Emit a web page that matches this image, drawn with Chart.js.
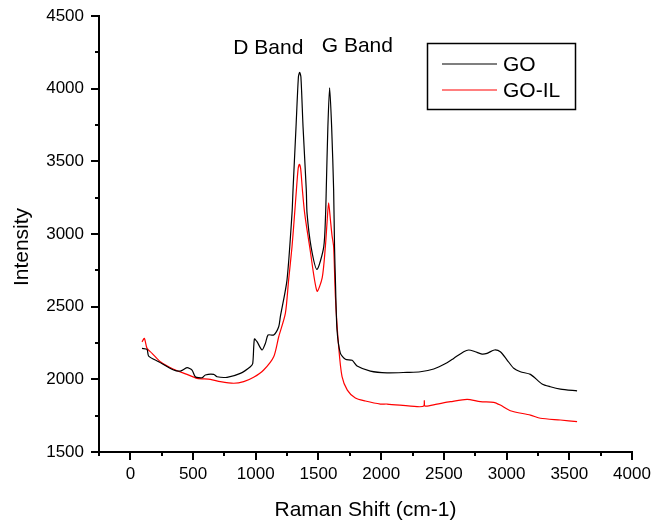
<!DOCTYPE html>
<html>
<head>
<meta charset="utf-8">
<script src="https://cdn.jsdelivr.net/npm/chart.js@4/dist/chart.umd.min.js"></script>
<style>
  body { margin: 0; background: #fff; }
  canvas { display: block; }
</style>
</head>
<body>
<canvas id="ramanChart" width="651" height="523"></canvas>
<script>
// Raman spectra (cm-1 / counts)
const wavenumberGO = [93, 133, 146, 226, 345, 399, 452, 492, 518, 572, 598, 665, 691, 771, 877, 957, 976, 989, 1010, 1050,
    1077, 1098, 1143, 1183, 1196, 1249, 1289, 1297, 1321, 1340, 1350, 1360, 1377, 1403, 1409, 1441, 1488, 1542, 1557, 1562,
    1575, 1589, 1605, 1621, 1628, 1635, 1648, 1675, 1715, 1768, 1808, 1914, 2047, 2206, 2313, 2419, 2525, 2578, 2658, 2698,
    2750, 2804, 2844, 2903, 2950, 3004, 3057, 3110, 3190, 3283, 3349, 3429, 3562];
const intensityGO = [2213, 2206, 2160, 2121, 2064, 2057, 2080, 2064, 2018, 2011, 2030, 2034, 2018, 2014, 2041, 2087, 2110, 2277, 2259, 2202,
    2248, 2305, 2305, 2362, 2431, 2683, 3142, 3302, 3737, 4080, 4112, 4080, 3737, 3302, 3142, 2912, 2757, 2912, 3142, 3302,
    3737, 4006, 3737, 3302, 2912, 2683, 2339, 2179, 2138, 2131, 2092, 2057, 2045, 2048, 2052, 2071, 2114, 2144, 2190, 2202,
    2190, 2174, 2179, 2202, 2190, 2133, 2076, 2052, 2034, 1968, 1949, 1933, 1920];

const wavenumberGOIL = [93, 112, 133, 173, 239, 345, 452, 532, 638, 718, 824, 904, 983, 1063, 1143, 1183, 1236, 1262, 1289, 1310,
    1324, 1338, 1348, 1358, 1372, 1390, 1430, 1488, 1530, 1555, 1570, 1581, 1595, 1608, 1621, 1635, 1661, 1688, 1730, 1794,
    1874, 1994, 2047, 2286, 2340, 2344, 2350, 2445, 2552, 2685, 2791, 2897, 2950, 3030, 3190, 3270, 3429, 3562];
const intensityGOIL = [2258, 2282, 2213, 2179, 2121, 2069, 2034, 2007, 2000, 1984, 1973, 1984, 2014, 2064, 2155, 2293, 2454, 2683, 2912, 3142,
    3302, 3450, 3479, 3450, 3302, 3142, 2912, 2607, 2700, 2912, 3100, 3215, 3100, 2990, 2912, 2568, 2224, 2018, 1926, 1871,
    1851, 1830, 1830, 1812, 1816, 1853, 1816, 1830, 1846, 1862, 1846, 1842, 1823, 1784, 1754, 1732, 1720, 1709];

const xTicks = [0, 500, 1000, 1500, 2000, 2500, 3000, 3500, 4000];
const yTicks = [1500, 2000, 2500, 3000, 3500, 4000, 4500];

// band labels, placed in data units
const bandLabels = ['D Band', 'G Band'];
const bandX = [1100, 1810];
const bandY = [4279, 4292];

const FONT = 'Arial, "Liberation Sans", sans-serif';

function toPoints(xs, ys) {
    return xs.map((x, i) => ({ x: x, y: ys[i] }));
}

// draws major + minor tick marks on the outside of the axes
const axisTicks = {
    id: 'axisTicks',
    afterDraw(chart) {
        const ctx = chart.ctx;
        const xs = chart.scales.x, ys = chart.scales.y;
        ctx.save();
        ctx.strokeStyle = '#000';
        ctx.lineWidth = 2;
        for (let v = -250; v <= 4000; v += 250) {
            const px = Math.round(xs.getPixelForValue(v));
            const len = v % 500 === 0 ? 8 : 4;
            ctx.beginPath();
            ctx.moveTo(px, xs.top);
            ctx.lineTo(px, xs.top + len);
            ctx.stroke();
        }
        for (let v = 1500; v <= 4500; v += 250) {
            const py = Math.round(ys.getPixelForValue(v));
            const len = v % 500 === 0 ? 8 : 4;
            ctx.beginPath();
            ctx.moveTo(ys.right, py);
            ctx.lineTo(ys.right - len, py);
            ctx.stroke();
        }
        ctx.restore();
    }
};

// band annotations, y title and framed legend
const annotations = {
    id: 'annotations',
    afterDraw(chart) {
        const ctx = chart.ctx;
        const xs = chart.scales.x, ys = chart.scales.y;
        ctx.save();
        ctx.font = '21px ' + FONT;
        ctx.fillStyle = '#000';
        ctx.textAlign = 'center';
        ctx.textBaseline = 'middle';
        bandLabels.forEach((t, i) => {
            ctx.fillText(t, xs.getPixelForValue(bandX[i]), ys.getPixelForValue(bandY[i]));
        });

        // y axis title (sits a bit below the middle of the axis)
        ctx.save();
        ctx.translate(22, 247);
        ctx.rotate(-Math.PI / 2);
        ctx.fillText('Intensity', 0, 0);
        ctx.restore();

        // legend box
        const bx = 427.5, by = 43.5, bw = 148, bh = 66;
        ctx.strokeStyle = '#000';
        ctx.lineWidth = 1.5;
        ctx.strokeRect(bx, by, bw, bh);
        ctx.textAlign = 'left';
        chart.data.datasets.forEach((ds, i) => {
            const ly = 64 + i * 26;
            ctx.strokeStyle = ds.borderColor;
            ctx.lineWidth = 1.2;
            ctx.beginPath();
            ctx.moveTo(442, ly);
            ctx.lineTo(497, ly);
            ctx.stroke();
            ctx.fillStyle = '#000';
            ctx.fillText(ds.label, 503, ly + 1);
        });
        ctx.restore();
    }
};

const ctx = document.getElementById('ramanChart').getContext('2d');
new Chart(ctx, {
    type: 'line',
    data: {
        datasets: [
            {
                label: 'GO',
                data: toPoints(wavenumberGO, intensityGO),
                borderColor: '#000000',
                borderWidth: 1.2,
                pointRadius: 0,
                tension: 0.25
            },
            {
                label: 'GO-IL',
                data: toPoints(wavenumberGOIL, intensityGOIL),
                borderColor: '#ff0000',
                borderWidth: 1.2,
                pointRadius: 0,
                tension: 0.25
            }
        ]
    },
    options: {
        responsive: false,
        animation: false,
        devicePixelRatio: 1,
        layout: { padding: { top: 16, right: 19, left: 0, bottom: 0 } },
        plugins: {
            legend: { display: false },
            tooltip: { enabled: false }
        },
        scales: {
            x: {
                type: 'linear',
                min: -250,
                max: 4000,
                afterBuildTicks: scale => { scale.ticks = xTicks.map(v => ({ value: v })); },
                afterFit: scale => {
                    scale.height = 71;
                    scale.paddingLeft = 0;
                    scale.paddingRight = 0;
                },
                grid: { display: true, drawOnChartArea: false, drawTicks: false },
                border: { color: '#000', width: 2 },
                ticks: {
                    color: '#000',
                    font: { family: FONT, size: 17 },
                    padding: 12,
                    maxRotation: 0,
                    callback: value => String(value)
                },
                title: {
                    display: true,
                    text: 'Raman Shift (cm-1)',
                    color: '#000',
                    font: { family: FONT, size: 21 },
                    padding: { top: 0, bottom: 0 }
                }
            },
            y: {
                min: 1500,
                max: 4500,
                afterBuildTicks: scale => { scale.ticks = yTicks.map(v => ({ value: v })); },
                afterFit: scale => {
                    scale.width = 99;
                    scale.paddingTop = 0;
                    scale.paddingBottom = 0;
                },
                grid: { display: true, drawOnChartArea: false, drawTicks: false },
                border: { color: '#000', width: 2 },
                ticks: {
                    color: '#000',
                    font: { family: FONT, size: 17 },
                    padding: 15,
                    callback: value => String(value)
                },
                title: { display: false }
            }
        }
    },
    plugins: [axisTicks, annotations]
});
</script>
</body>
</html>
